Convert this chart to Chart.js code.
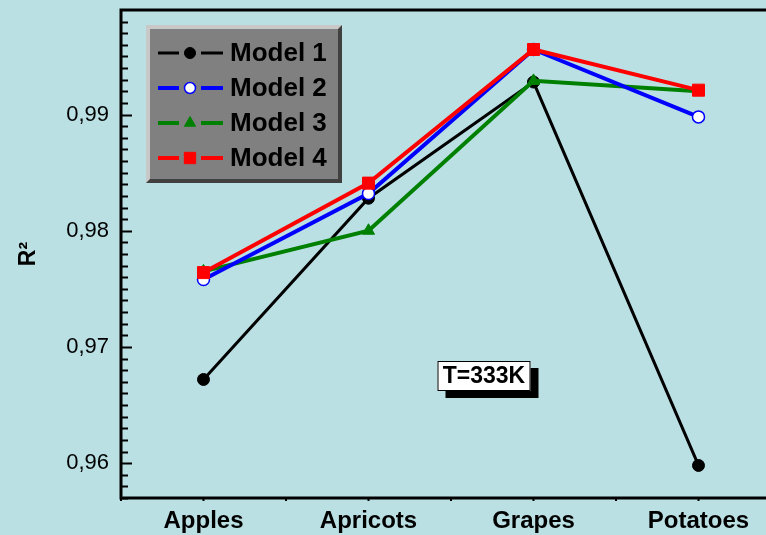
<!DOCTYPE html>
<html>
<head>
<meta charset="utf-8">
<script src="https://cdn.jsdelivr.net/npm/chart.js@4/dist/chart.umd.min.js"></script>
<style>
  html, body { margin: 0; padding: 0; overflow: hidden; background: #bae0e4; }
  #wrap { width: 800px; height: 535px; }
</style>
</head>
<body>
<div id="wrap"><canvas id="r2Chart" width="800" height="535"></canvas></div>
<script>
// data
const categories = ['Apples', 'Apricots', 'Grapes', 'Potatoes'];
const model1 = [0.9672, 0.9828, 0.9928, 0.9598];
const model2 = [0.9758, 0.9832, 0.9956, 0.9898];
const model3 = [0.9765, 0.9800, 0.9929, 0.9920];
const model4 = [0.9764, 0.9841, 0.9956, 0.9921];
const yTickValues = [0.96, 0.97, 0.98, 0.99];
const noteText = 'T=333K';

const FONT = "'Liberation Sans', Arial, sans-serif";

// frame, inward minor ticks, legend box and the T=333K note
const decorPlugin = {
    id: 'decor',
    afterDraw(chart) {
        const ctx = chart.ctx;
        const area = chart.chartArea;
        const ys = chart.scales.y;
        const xs = chart.scales.x;
        ctx.save();

        // axis frame
        ctx.strokeStyle = '#000';
        ctx.lineWidth = 3;
        ctx.beginPath();
        ctx.moveTo(chart.width, area.top);
        ctx.lineTo(area.left, area.top);
        ctx.lineTo(area.left, area.bottom);
        ctx.lineTo(chart.width, area.bottom);
        ctx.stroke();

        // y ticks every 0.001, major every 0.01
        ctx.lineWidth = 2;
        for (let k = 957; k <= 998; k++) {
            const py = Math.round(ys.getPixelForValue(k / 1000)) + 0.5;
            const len = (k % 10 === 0) ? 11 : 7;
            ctx.beginPath();
            ctx.moveTo(area.left, py);
            ctx.lineTo(area.left + len, py);
            ctx.stroke();
        }

        // x ticks at labels and between them
        for (let i = -0.5; i <= categories.length - 0.5; i += 0.5) {
            const px = xs.getPixelForValue(i);
            ctx.beginPath();
            ctx.moveTo(px, area.bottom);
            ctx.lineTo(px, area.bottom + 3);
            ctx.stroke();
        }

        // legend
        const lx = 146, ly = 25, lw = 196, lh = 158, bev = 4;
        ctx.fillStyle = '#404040';
        ctx.fillRect(lx, ly, lw, lh);
        ctx.fillStyle = '#c8c8c8';
        ctx.beginPath();
        ctx.moveTo(lx, ly);
        ctx.lineTo(lx + lw, ly);
        ctx.lineTo(lx + lw - bev, ly + bev);
        ctx.lineTo(lx + bev, ly + lh - bev);
        ctx.lineTo(lx, ly + lh);
        ctx.closePath();
        ctx.fill();
        ctx.fillStyle = '#808080';
        ctx.fillRect(lx + bev, ly + bev, lw - 2 * bev, lh - 2 * bev);

        chart.data.datasets.forEach((ds, i) => {
            const cy = 53 + i * 35;
            ctx.strokeStyle = ds.borderColor;
            ctx.lineWidth = ds.borderWidth;
            ctx.beginPath();
            ctx.moveTo(158, cy); ctx.lineTo(179, cy);
            ctx.moveTo(201, cy); ctx.lineTo(223, cy);
            ctx.stroke();
            ctx.fillStyle = ds.pointBackgroundColor;
            ctx.strokeStyle = ds.pointBorderColor;
            ctx.lineWidth = ds.pointBorderWidth;
            Chart.helpers.drawPoint(ctx, {
                pointStyle: ds.pointStyle,
                radius: ds.pointRadius - 0.5,
                borderWidth: ds.pointBorderWidth,
                rotation: 0
            }, 190, cy);
            ctx.fillStyle = '#000';
            ctx.font = 'bold 26px ' + FONT;
            ctx.textAlign = 'left';
            ctx.textBaseline = 'middle';
            ctx.fillText(ds.label, 230, cy + 1);
        });

        // note box with shadow, anchored on the scales
        const nx = xs.getPixelForValue(1.7);
        const ny = ys.getPixelForValue(0.9675);
        const bw = 93, bh = 30;
        ctx.fillStyle = '#000';
        ctx.fillRect(nx - bw / 2 + 8, ny - bh / 2 + 7, bw, bh);
        ctx.fillStyle = '#fff';
        ctx.fillRect(nx - bw / 2, ny - bh / 2, bw, bh);
        ctx.strokeStyle = '#000';
        ctx.lineWidth = 1;
        ctx.strokeRect(nx - bw / 2 + 0.5, ny - bh / 2 + 0.5, bw - 1, bh - 1);
        ctx.fillStyle = '#000';
        ctx.font = 'bold 23px ' + FONT;
        ctx.textAlign = 'center';
        ctx.textBaseline = 'middle';
        ctx.fillText(noteText, nx, ny + 1);

        ctx.restore();
    }
};

new Chart(document.getElementById('r2Chart').getContext('2d'), {
    type: 'line',
    data: {
        labels: categories,
        datasets: [{
            label: 'Model 1',
            data: model1,
            borderColor: '#000000',
            borderWidth: 3,
            pointStyle: 'circle',
            pointRadius: 6,
            pointBackgroundColor: '#000000',
            pointBorderColor: '#000000',
            pointBorderWidth: 1,
            order: 4
        }, {
            label: 'Model 2',
            data: model2,
            borderColor: '#0000ff',
            borderWidth: 4,
            pointStyle: 'circle',
            pointRadius: 6,
            pointBackgroundColor: '#ffffff',
            pointBorderColor: '#0000ff',
            pointBorderWidth: 1.5,
            order: 2
        }, {
            label: 'Model 3',
            data: model3,
            borderColor: '#008000',
            borderWidth: 4,
            pointStyle: 'triangle',
            pointRadius: 7,
            pointBackgroundColor: '#008000',
            pointBorderColor: '#008000',
            pointBorderWidth: 1,
            order: 3
        }, {
            label: 'Model 4',
            data: model4,
            borderColor: '#ff0000',
            borderWidth: 4,
            pointStyle: 'rect',
            pointRadius: 8.5,
            pointBackgroundColor: '#ff0000',
            pointBorderColor: '#ff0000',
            pointBorderWidth: 1,
            order: 1
        }]
    },
    options: {
        responsive: false,
        animation: false,
        tension: 0,
        layout: { padding: { top: 10, left: 0, right: 19, bottom: 0 } },
        plugins: { legend: { display: false }, tooltip: { enabled: false } },
        scales: {
            x: {
                offset: true,
                grid: { display: false, drawTicks: false },
                border: { display: false },
                ticks: { color: '#000', padding: 9, font: { family: FONT, size: 24, weight: 'bold' } },
                afterFit: s => { s.height = 37; s.paddingLeft = 0; s.paddingRight = 0; }
            },
            y: {
                min: 0.957,
                max: 0.999,
                grid: { display: false, drawTicks: false },
                border: { display: false },
                ticks: {
                    color: '#000',
                    padding: 12,
                    font: { family: FONT, size: 22 },
                    callback: v => v.toFixed(2).replace('.', ',')
                },
                afterBuildTicks: s => { s.ticks = yTickValues.map(v => ({ value: v })); },
                title: {
                    display: true,
                    text: 'R²',
                    color: '#000',
                    padding: { top: 15, bottom: 0 },
                    font: { family: FONT, size: 23, weight: 'bold' }
                },
                afterFit: s => { s.width = 121; s.paddingTop = 0; s.paddingBottom = 0; }
            }
        }
    },
    plugins: [decorPlugin]
});
</script>
</body>
</html>
